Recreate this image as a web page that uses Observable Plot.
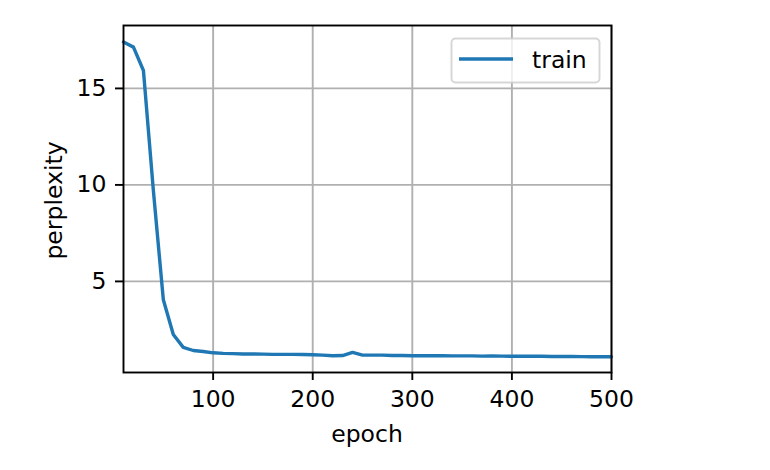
<!DOCTYPE html>
<html>
<head>
<meta charset="utf-8">
<script src="https://cdn.jsdelivr.net/npm/d3@7"></script>
<script src="https://cdn.jsdelivr.net/npm/@observablehq/plot@0.6"></script>
<style>
  html, body { margin: 0; padding: 0; background: #fff; }
  #chart { position: relative; width: 770px; height: 470px; }
</style>
</head>
<body>
<div id="chart"></div>
<script>
const epochs = [10,20,30,40,50,60,70,80,90,100,110,120,130,140,150,160,170,180,190,200,
  210,220,230,240,250,260,270,280,290,300,310,320,330,340,350,360,370,380,390,400,
  410,420,430,440,450,460,470,480,490,500];
const perplexity = [17.4,17.14,15.93,9.7,4.05,2.25,1.58,1.42,1.37,1.30,
  1.27,1.26,1.24,1.24,1.23,1.22,1.22,1.22,1.21,1.20,
  1.18,1.15,1.16,1.32,1.18,1.18,1.18,1.16,1.16,1.15,
  1.15,1.15,1.15,1.14,1.14,1.14,1.13,1.14,1.13,1.12,
  1.12,1.12,1.12,1.11,1.11,1.11,1.10,1.10,1.10,1.10];
const xTicks = [100,200,300,400,500];
const yTicks = [5,10,15];
const seriesName = "train";
const xLabel = "epoch";
const yLabel = "perplexity";

const data = epochs.map((e, i) => ({epoch: e, ppl: perplexity[i]}));

const W = 770, H = 470;
const mL = 123, mR = 159, mT = 25, mB = 98;
const FS = 23.5;

const plot = Plot.plot({
  width: W, height: H,
  marginLeft: mL, marginRight: mR, marginTop: mT, marginBottom: mB,
  style: {fontFamily: "DejaVu Sans, sans-serif", fontSize: FS + "px", color: "#000", background: "#fff"},
  x: {domain: [10, 500]},
  y: {domain: [0.28, 18.26]},
  marks: [
    Plot.gridX(xTicks, {stroke: "#b0b0b0", strokeOpacity: 1, strokeWidth: 1.9}),
    Plot.gridY(yTicks, {stroke: "#b0b0b0", strokeOpacity: 1, strokeWidth: 1.9}),
    Plot.line(data, {x: "epoch", y: "ppl", stroke: "#1f77b4", strokeWidth: 3.4}),
    Plot.frame({stroke: "#000", strokeWidth: 1.9}),
    Plot.axisX(xTicks, {tickSize: 8, tickPadding: 10, label: null, stroke: "#000", strokeWidth: 1.9, fontSize: FS}),
    Plot.axisY(yTicks, {tickSize: 8, tickPadding: 9, label: null, stroke: "#000", strokeWidth: 1.9, fontSize: FS})
  ]
});
document.getElementById("chart").appendChild(plot);

const svg = d3.select(plot);
const xs = plot.scale("x"), ys = plot.scale("y");
const cx = (xs.range[0] + xs.range[1]) / 2;
const cy = (ys.range[0] + ys.range[1]) / 2;

svg.append("text").attr("x", cx).attr("y", 442).attr("text-anchor", "middle")
  .attr("fill", "#000").text(xLabel);
svg.append("text").attr("transform", `translate(62,${cy + 2}) rotate(-90)`)
  .attr("text-anchor", "middle").attr("fill", "#000").text(yLabel);

// legend
const lg = svg.append("g");
lg.append("rect").attr("x", 451.5).attr("y", 38.5).attr("width", 148).attr("height", 44)
  .attr("rx", 4).attr("fill", "#fff").attr("fill-opacity", 0.8)
  .attr("stroke", "#cccccc").attr("stroke-opacity", 0.8).attr("stroke-width", 1.9);
lg.append("line").attr("x1", 459).attr("x2", 513).attr("y1", 59).attr("y2", 59)
  .attr("stroke", "#1f77b4").attr("stroke-width", 3.4);
lg.append("text").attr("x", 532).attr("y", 68).attr("text-anchor", "start")
  .attr("fill", "#000").text(seriesName);

svg.selectAll("text").style("font-size", FS + "px").style("font-family", "DejaVu Sans, sans-serif");
</script>
</body>
</html>
